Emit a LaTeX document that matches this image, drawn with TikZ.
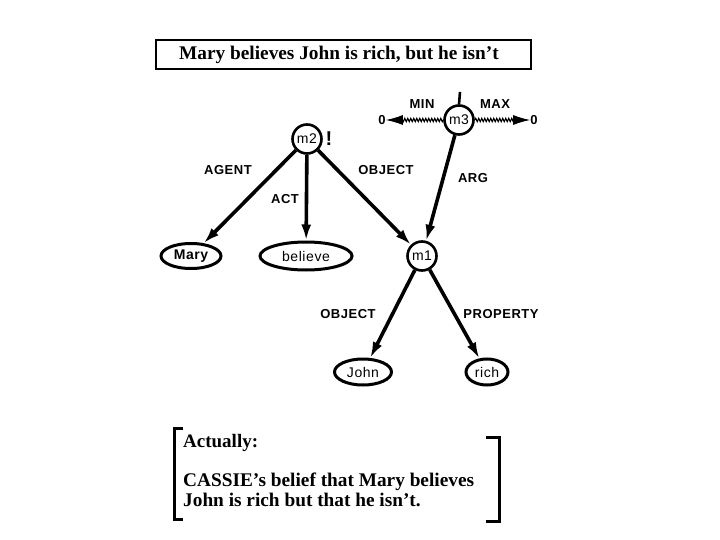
\documentclass[tikz,border=0pt]{standalone}
\usepackage{fontspec}
\setmainfont{Liberation Serif}
\setsansfont{Liberation Sans}
\newfontfamily\lblfont[LetterSpace=4]{Liberation Sans}
\usetikzlibrary{arrows.meta,decorations.pathmorphing,shapes.geometric}
\begin{document}
\begin{tikzpicture}[x=1pt,y=-1pt,
  circ/.style={circle,draw,line width=2.6pt,minimum size=29pt,inner sep=0pt,font=\lblfont\fontsize{14}{14}\selectfont},
  ell/.style={ellipse,draw,line width=3pt,inner sep=0pt,font=\lblfont\fontsize{14}{14}\selectfont},
  lbl/.style={font=\lblfont\bfseries\fontsize{13}{13}\selectfont,inner sep=0pt},
  edge/.style={line width=3.6pt,-{Latex[length=16pt,width=10pt]}},
  wavy/.style={line width=1.1pt,decorate,decoration={snake,amplitude=1.7pt,segment length=3pt,post length=16pt},-{Latex[length=17pt,width=10pt]}},
  big/.style={font=\bfseries\fontsize{19}{19}\selectfont,inner sep=0pt}]
\useasboundingbox (0,0) rectangle (720,540);
\fill[white] (0,0) rectangle (720,540);
% title
\draw[line width=1.3pt] (156,40) rectangle (531,69);
\node[big,font=\bfseries\fontsize{19.3}{19.3}\selectfont] (title) at (339,55) {Mary believes John is rich, but he isn't};
% nodes
\node[circ] (m3) at (459,120) {m3};
\node[circ] (m2) at (307,139) {m2};
\node[circ] (m1) at (422,256) {m1};
\node[ell,minimum width=60pt,minimum height=25pt,font=\lblfont\bfseries\fontsize{14}{14}\selectfont] (mary) at (191,256) {Mary};
\node[ell,minimum width=92pt,minimum height=28pt] (believe) at (306,256) {believe};
\node[ell,minimum width=57pt,minimum height=26pt] (john) at (363,372) {John};
\node[ell,minimum width=42pt,minimum height=26pt] (rich) at (487,372) {rich};
\node[lbl,font=\sffamily\bfseries\fontsize{20}{20}\selectfont] (bang) at (329,139) {!};
\node[lbl] (zl) at (382,120) {0};
\node[lbl] (zr) at (534,120) {0};
\coordinate (top) at (460,92);
% labels
\node[lbl] (lmin) at (422,104) {MIN};
\node[lbl] (lmax) at (495,104) {MAX};
\node[lbl] (lagent) at (228,170) {AGENT};
\node[lbl] (lact) at (285,199) {ACT};
\node[lbl] (lobj) at (386,170) {OBJECT};
\node[lbl] (larg) at (473,178) {ARG};
\node[lbl] (lobj2) at (348,314) {OBJECT};
\node[lbl] (lprop) at (501,314) {PROPERTY};
% edges
\draw[line width=2.6pt] (top) -- (m3.north);
\draw[wavy] (m3.west) -- (zl.east);
\draw[wavy] (m3.east) -- (zr.west);
\draw[edge] (m2) -- (mary);
\draw[edge] (m2) -- (believe);
\draw[edge] (m2) -- (m1);
\draw[edge] (m3) -- (m1);
\draw[edge] (m1) -- (john);
\draw[edge] (m1) -- (rich);
% bottom brackets
\draw[line width=3pt] (183,428) -- (174,428) -- (174,519) -- (183,519);
\draw[line width=3pt] (486,437) -- (499,437) -- (499,521) -- (486,521);
\node[big,anchor=west] (act) at (183,443) {Actually:};
\node[big,anchor=west,align=left,font=\bfseries\fontsize{19.3}{19.5}\selectfont] (cassie) at (183,490) {CASSIE's belief that Mary believes\\John is rich but that he isn't.};
\end{tikzpicture}
\end{document}
